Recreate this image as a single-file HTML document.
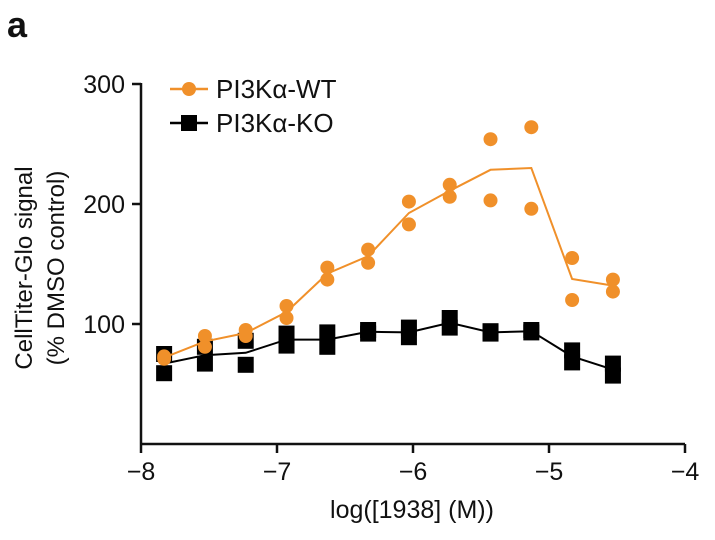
<!DOCTYPE html>
<html><head><meta charset="utf-8"><style>
html,body{margin:0;padding:0;background:#fff;}
svg text{font-family:"Liberation Sans",Arial,sans-serif;fill:#111;}
</style></head><body>
<svg width="715" height="535" viewBox="0 0 715 535" xmlns="http://www.w3.org/2000/svg">
<text x="7" y="37" font-size="36" font-weight="bold">a</text>
<g id="axes"></g>
<g id="series"></g>
<g>
 <line x1="170" y1="89" x2="208" y2="89" stroke="#f0902a" stroke-width="2.5"/>
 <circle cx="189" cy="89" r="7" fill="#f0902a"/>
 <text x="216" y="98" font-size="26">PI3Kα-WT</text>
 <line x1="170" y1="123" x2="208" y2="123" stroke="#000" stroke-width="2.5"/>
 <rect x="181" y="115" width="16" height="16" fill="#000"/>
 <text x="216" y="132" font-size="26">PI3Kα-KO</text>
</g>
<text transform="translate(32,268) rotate(-90)" text-anchor="middle" font-size="24">CellTiter-Glo signal</text>
<text transform="translate(64,268) rotate(-90)" text-anchor="middle" font-size="24">(% DMSO control)</text>
<text x="412" y="518" text-anchor="middle" font-size="25">log([1938] (M))</text>
</svg>
<script>
const xValues=[-7.83,-7.53,-7.23,-6.93,-6.63,-6.33,-6.03,-5.73,-5.43,-5.13,-4.83,-4.53];
const wtRep1=[73,90,95,115,147,162,202,216,254,264,155,137];
const wtRep2=[71,81,90,105,137,151,183,206,203,196,120,127];
const koRep1=[75,81,86,92,93,95,97,105,94,95,78,67];
const koRep2=[59,67,66,82,81,92,89,97,92,93,68,57];
const xTicks=[-8,-7,-6,-5,-4];
const yTicks=[100,200,300];
const NS='http://www.w3.org/2000/svg';
const X=v=>141+(v+8)*136;
const Y=v=>444-v*1.2;
function mk(tag,attrs,parent){const e=document.createElementNS(NS,tag);for(const k in attrs)e.setAttribute(k,attrs[k]);parent.appendChild(e);return e;}
const axes=document.getElementById('axes'),ser=document.getElementById('series');
let l=mk('line',{x1:X(-8),y1:444,x2:X(-4),y2:444,stroke:'#111','stroke-width':2.5},axes);


l=mk('line',{x1:141,y1:Y(300)-1,x2:141,y2:444,stroke:'#111','stroke-width':2.5},axes);


xTicks.forEach(t=>{
 let tk=mk('line',{x1:X(t),y1:444,x2:X(t),y2:453,stroke:'#111','stroke-width':2.5},axes);
 
 
 let tx=mk('text',{x:X(t),y:480,'text-anchor':'middle','font-size':25},axes);
 tx.textContent='\u2212'+Math.abs(t);
 
 
});
yTicks.forEach(t=>{
 let tk=mk('line',{x1:132,y1:Y(t),x2:141,y2:Y(t),stroke:'#111','stroke-width':2.5},axes);
 
 
 let tx=mk('text',{x:125,y:Y(t)+9,'text-anchor':'end','font-size':25},axes);
 tx.textContent=t;
 
 
});
function series(r1,r2,color,name,square){
 const pts=xValues.map((x,i)=>X(x)+','+Y((r1[i]+r2[i])/2)).join(' ');
 let pl=mk('polyline',{points:pts,fill:'none',stroke:color,'stroke-width':2},ser);
 
 
 [r1,r2].forEach(r=>xValues.forEach((x,i)=>{
  let m;
  if(square)m=mk('rect',{x:X(x)-8,y:Y(r[i])-8,width:16,height:16,fill:color},ser);
  else m=mk('circle',{cx:X(x),cy:Y(r[i]),r:7,fill:color},ser);
  
  
 }));
}
series(koRep1,koRep2,'#000','ko',true);
series(wtRep1,wtRep2,'#f0902a','wt',false);
</script>
</body></html>
